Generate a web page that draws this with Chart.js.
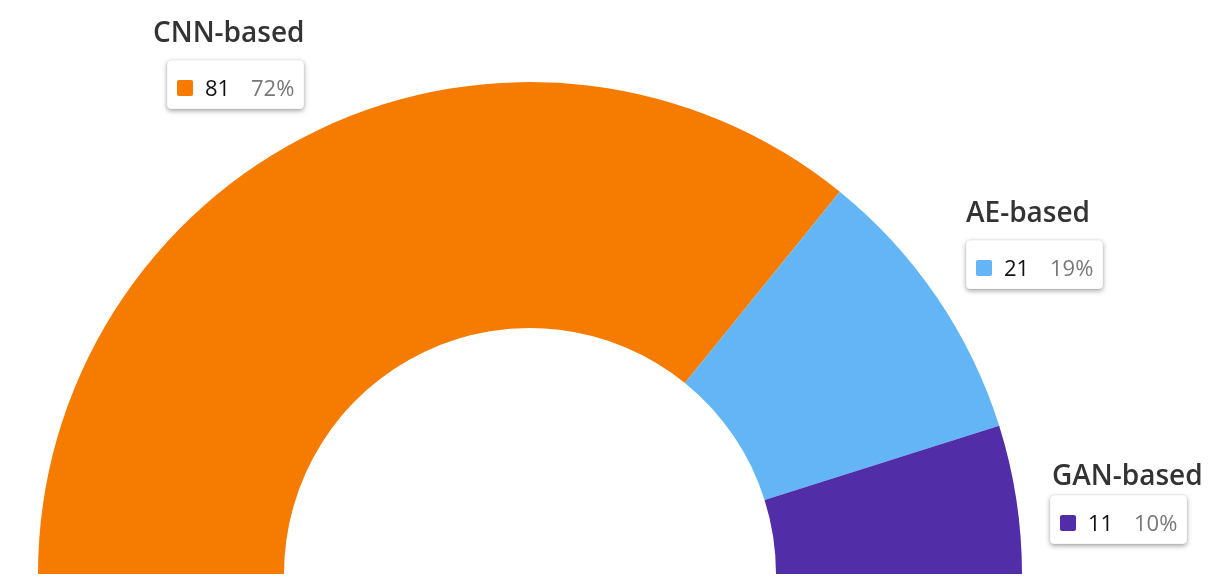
<!DOCTYPE html>
<html>
<head>
<meta charset="utf-8">
<title>Model types</title>
<script src="https://cdn.jsdelivr.net/npm/chart.js@4/dist/chart.umd.min.js"></script>
<style>
  html, body { margin: 0; padding: 0; background: #fff; }
  canvas { display: block; }
</style>
</head>
<body>
<canvas id="chart" width="1222" height="587"></canvas>
<script>
  'use strict';

  // Data.
  const categories = ['CNN-based', 'AE-based', 'GAN-based'];
  const counts = [81, 21, 11];
  const sliceColors = ['#F57C00', '#64B5F6', '#512DA8'];

  // Callout placement relative to the middle of each slice's outer edge.
  const callouts = [
    { dx: -151, dy: -70, titleDx: -14, titleGap: 18 },
    { dx: 29, dy: -57, titleDx: 0, titleGap: 18 },
    { dx: 34, dy: -4, titleDx: 2, titleGap: 10 }
  ];

  function roundRect(ctx, x, y, w, h, r) {
    ctx.beginPath();
    ctx.moveTo(x + r, y);
    ctx.lineTo(x + w - r, y);
    ctx.quadraticCurveTo(x + w, y, x + w, y + r);
    ctx.lineTo(x + w, y + h - r);
    ctx.quadraticCurveTo(x + w, y + h, x + w - r, y + h);
    ctx.lineTo(x + r, y + h);
    ctx.quadraticCurveTo(x, y + h, x, y + h - r);
    ctx.lineTo(x, y + r);
    ctx.quadraticCurveTo(x, y, x + r, y);
    ctx.closePath();
  }

  const calloutPlugin = {
    id: 'callouts',
    afterDraw(chart) {
      const ctx = chart.ctx;
      const meta = chart.getDatasetMeta(0);
      const values = chart.data.datasets[0].data;
      const total = values.reduce((a, b) => a + b, 0);
      const boxW = 137;
      const boxH = 49;

      meta.data.forEach((arc, i) => {
        const p = arc.getProps(['x', 'y', 'startAngle', 'endAngle', 'outerRadius'], true);
        const mid = (p.startAngle + p.endAngle) / 2;
        const ax = p.x + Math.cos(mid) * p.outerRadius;
        const ay = p.y + Math.sin(mid) * p.outerRadius;
        const c = callouts[i];
        const bx = Math.round(ax + c.dx);
        const by = Math.round(ay + c.dy);

        ctx.save();

        // Title.
        ctx.font = '600 28px "Open Sans"';
        ctx.fillStyle = '#333333';
        ctx.textAlign = 'left';
        ctx.textBaseline = 'alphabetic';
        ctx.fillText(chart.data.labels[i], bx + c.titleDx, by - c.titleGap);

        // Box with shadow.
        ctx.shadowColor = 'rgba(0, 0, 0, 0.35)';
        ctx.shadowBlur = 5;
        ctx.shadowOffsetY = 2;
        ctx.fillStyle = '#ffffff';
        roundRect(ctx, bx, by, boxW, boxH, 4);
        ctx.fill();
        ctx.shadowColor = 'transparent';
        ctx.strokeStyle = 'rgba(0, 0, 0, 0.06)';
        ctx.lineWidth = 1;
        ctx.stroke();

        // Swatch.
        ctx.fillStyle = sliceColors[i];
        roundRect(ctx, bx + 10, by + 20, 16, 16, 2);
        ctx.fill();

        // Value and share.
        ctx.font = '22px "Open Sans"';
        ctx.fillStyle = '#111111';
        ctx.fillText(String(values[i]), bx + 38, by + 36);
        ctx.fillStyle = '#777777';
        ctx.fillText(Math.round(values[i] / total * 100) + '%', bx + 84, by + 36);

        ctx.restore();
      });
    }
  };

  new Chart(document.getElementById('chart'), {
    type: 'doughnut',
    data: {
      labels: categories,
      datasets: [{
        data: counts,
        backgroundColor: sliceColors,
        borderWidth: 0
      }]
    },
    options: {
      responsive: false,
      animation: false,
      rotation: -90,
      circumference: 180,
      cutout: '50%',
      layout: {
        padding: { left: 38, right: 200, top: 82, bottom: 13 }
      },
      plugins: {
        legend: { display: false },
        tooltip: { enabled: false }
      }
    },
    plugins: [calloutPlugin]
  });
</script>
</body>
</html>
